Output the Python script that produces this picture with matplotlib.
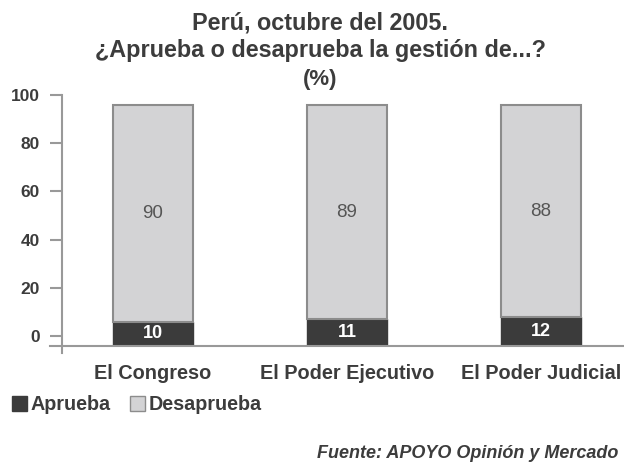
import matplotlib
matplotlib.use("Agg")
import matplotlib.pyplot as plt
from matplotlib.patches import Patch

# data
categorias = ['El Congreso', 'El Poder Ejecutivo', 'El Poder Judicial']
aprueba = [10, 11, 12]
desaprueba = [90, 89, 88]
ticks = [0, 20, 40, 60, 80, 100]

dark = '#3b3b3b'
light = '#d3d3d5'
edge = '#8c8c8c'
txt = '#3c3c3c'

plt.rcParams['font.family'] = ['Liberation Sans', 'DejaVu Sans']

fig = plt.figure(figsize=(6.24, 4.68), dpi=100)
W, H = 624, 468
ax = fig.add_axes([62 / W, 122 / H, (624 - 62) / W, (346 - 95) / H])

# the tick scale in the original sits a little above the bars' base
off = 4.15
x = list(range(len(categorias)))
ax.bar(x, aprueba, width=0.412, color=dark, edgecolor=dark, linewidth=1)
ax.bar(x, desaprueba, bottom=aprueba, width=0.412, color=light, edgecolor=edge, linewidth=1.5)

for i in x:
    ax.text(i, aprueba[i] / 2, str(aprueba[i]), ha='center', va='center',
            color='white', fontsize=13, fontweight='bold')
    ax.text(i, aprueba[i] + desaprueba[i] / 2, str(desaprueba[i]), ha='center', va='center',
            color='#555555', fontsize=13.5)

ax.set_xlim(-0.469, 2.428)
ax.set_ylim(0, 100 + off)
ax.spines[['top', 'right', 'left']].set_visible(False)
ax.spines['bottom'].set_color('#999999')
ax.spines['bottom'].set_linewidth(1.5)
ax.spines['bottom'].set_bounds(-0.531, 2.428)
ax.set_yticks([])
ax.set_xticks(x)
ax.set_xticklabels(categorias, fontsize=14.3, fontweight='bold', color=txt)
ax.tick_params(axis='x', length=0, pad=13)

sec = ax.secondary_yaxis('left', functions=(lambda y: y - off, lambda y: y + off))
sec.set_yticks(ticks)
sec.set_yticklabels([str(t) for t in ticks], fontsize=12.5, fontweight='bold', color=txt)
sec.tick_params(axis='y', direction='out', length=9, width=1.5, color='#999999', pad=7)
sec.spines['left'].set_color('#999999')
sec.spines['left'].set_linewidth(1.5)
sec.spines['left'].set_bounds(-7, 100)

fig.text(0.513, 1 - 23 / H, 'Perú, octubre del 2005.', ha='center', va='center',
         fontsize=16.8, fontweight='bold', color=txt)
fig.text(0.513, 1 - 51 / H, '¿Aprueba o desaprueba la gestión de...?', ha='center', va='center',
         fontsize=16.8, fontweight='bold', color=txt)
fig.text(0.513, 1 - 80 / H, '(%)', ha='center', va='center',
         fontsize=16, fontweight='bold', color=txt)

handles = [Patch(facecolor=dark, edgecolor=dark), Patch(facecolor=light, edgecolor=edge)]
fig.legend(handles, ['Aprueba', 'Desaprueba'], loc='center left',
           bbox_to_anchor=(-6 / W, 1 - 405 / H), ncol=2, frameon=False,
           prop={'size': 14.2, 'weight': 'bold'}, labelcolor=txt,
           handlelength=0.75, handleheight=0.75, handletextpad=0.2, columnspacing=1.0)

fig.text(618 / W, 1 - 453 / H, 'Fuente: APOYO Opinión y Mercado', ha='right', va='center',
         fontsize=13, fontweight='bold', fontstyle='italic', color=txt)

fig.savefig('out.png', dpi=100)
